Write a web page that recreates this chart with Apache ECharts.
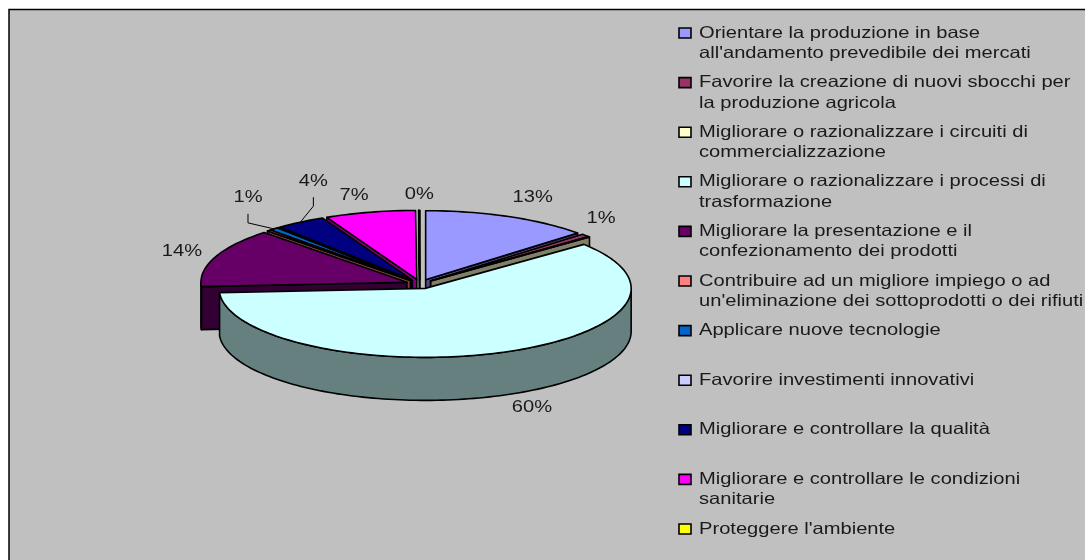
<!DOCTYPE html>
<html><head><meta charset="utf-8">
<style>html,body{margin:0;padding:0;background:#fff}#c{width:1085px;height:560px}</style>
<script src="https://cdn.jsdelivr.net/npm/echarts@6/dist/echarts.min.js"></script>
</head><body><div id="c"></div>
<script>
const categories = [
  "Orientare la produzione in base\nall'andamento prevedibile dei mercati",
  "Favorire la creazione di nuovi sbocchi per\nla produzione agricola",
  "Migliorare o razionalizzare i circuiti di\ncommercializzazione",
  "Migliorare o razionalizzare i processi di\ntrasformazione",
  "Migliorare la presentazione e il\nconfezionamento dei prodotti",
  "Contribuire ad un migliore impiego o ad\nun'eliminazione dei sottoprodotti o dei rifiuti",
  "Applicare nuove tecnologie",
  "Favorire investimenti innovativi",
  "Migliorare e controllare la qualità",
  "Migliorare e controllare le condizioni\nsanitarie",
  "Proteggere l'ambiente"
];
const values = [13.2, 0.7, 0.1, 60.0, 13.8, 0.3, 0.7, 0.1, 3.9, 7.1, 0.1];
const shownLabels = [true, true, false, true, true, false, true, false, true, true, true];
const colors = ['#9999FF','#993366','#FFFFCC','#CCFFFF','#660066','#FF8080','#0066CC','#CCCCFF','#000080','#FF00FF','#FFFF00'];

// layout
const cx = 420, cy = 284, rx = 206, ry = 69, depth = 43, explode = 14, squash = ry / rx;
const nudges = {0:[24,-19],1:[15.5,-17],3:[31,54.5],4:[-33,-6],6:[-26,-31],8:[13,-41],9:[-16,-17],10:[0,-16]};
const leaders = {6:true, 8:true};
const legendX = 679, legendTop = 33, legendStep = 49.6, lineH = 20.5;
const font = '16.5px "Liberation Sans", Arial, sans-serif';
const stretch = 1.22;

const total = values.reduce((a, b) => a + b, 0);
const d2r = Math.PI / 180;
let acc = 0;
const slices = values.map(v => {
  const a0 = acc / total * 360; acc += v; const a1 = acc / total * 360;
  return { a0, a1, mid: (a0 + a1) / 2 };
});
const shade = hex => {
  const n = parseInt(hex.slice(1), 16);
  const f = c => Math.round(c / 2);
  return `rgb(${f(n >> 16)},${f((n >> 8) & 255)},${f(n & 255)})`;
};
const line = { stroke: '#000', lineWidth: 1.6, lineJoin: 'round' };
const stretchedText = (text, x, y, align, z2) => ({ type: 'text', x, y, scaleX: stretch, z2,
  style: { text, x: 0, y: 0, align, verticalAlign: 'middle', fill: '#1a1a1a', font } });

function renderSlice(params, api) {
  const i = api.value(0), s = slices[i];
  const ox = cx + explode * Math.sin(s.mid * d2r);
  const oy = cy - explode * squash * Math.cos(s.mid * d2r);
  const rim = (a, dy) => [ox + rx * Math.sin(a * d2r), oy - ry * Math.cos(a * d2r) + (dy || 0)];
  const arc = (from, to, dy) => {
    const n = Math.max(2, Math.ceil(Math.abs(to - from) / 1.5));
    const pts = [];
    for (let k = 0; k <= n; k++) pts.push(rim(from + (to - from) * k / n, dy));
    return pts;
  };
  const wall = shade(colors[i]);
  const order = 100 - 50 * Math.cos(s.mid * d2r);
  const kids = [];
  const poly = (points, fill, z) => kids.push({ type: 'polygon', shape: { points }, z2: z,
    style: Object.assign({ fill }, line) });
  const radial = a => {
    const p = rim(a);
    poly([[ox, oy], p, [p[0], p[1] + depth], [ox, oy + depth]], wall, order);
  };
  if (Math.sin(s.a0 * d2r) < 0) radial(s.a0);
  if (Math.sin(s.a1 * d2r) > 0) radial(s.a1);
  const w0 = Math.max(s.a0, 90), w1 = Math.min(s.a1, 270);
  if (w1 > w0) {
    const top = arc(w0, w1, 0), bot = arc(w1, w0, depth);
    poly(top.concat(bot), wall, order + 0.1);
  }
  poly([[ox, oy]].concat(arc(s.a0, s.a1, 0)), colors[i], order + 0.2);
  if (shownLabels[i]) {
    const lx = cx + (rx + explode) * Math.sin(s.mid * d2r);
    const ly = cy - (ry + explode * squash) * Math.cos(s.mid * d2r);
    const tx = lx + nudges[i][0], ty = ly + nudges[i][1];
    if (leaders[i]) {
      kids.push({ type: 'polyline', z2: 300, shape: { points: [[tx, ty + 16], [tx, ty + 25], [lx, ly]] },
        style: { stroke: '#000', lineWidth: 1, fill: null } });
    }
    kids.push(stretchedText(Math.round(values[i]) + '%', tx, ty, 'center', 301));
  }
  return { type: 'group', children: kids };
}

function renderLegend(params, api) {
  const i = api.value(0), y = legendTop + legendStep * i;
  const kids = [{ type: 'rect', shape: { x: legendX, y: y - 5, width: 12, height: 10 },
    style: { fill: colors[i], stroke: '#000', lineWidth: 1.6 } }];
  categories[i].split('\n').forEach((t, k) => kids.push(stretchedText(t, legendX + 20, y + k * lineH, 'left', 1)));
  return { type: 'group', children: kids };
}

const rows = values.map((v, i) => [i, v]);
const chart = echarts.init(document.getElementById('c'), null, { renderer: 'canvas' });
chart.setOption({
  animation: false,
  backgroundColor: '#fff',
  graphic: [{ type: 'rect', z: -1, shape: { x: 9, y: 9.5, width: 1090, height: 560 },
    style: { fill: '#C0C0C0', stroke: '#000', lineWidth: 1.5 } }],
  series: [
    { type: 'custom', coordinateSystem: 'none', data: rows, renderItem: renderSlice, silent: true },
    { type: 'custom', coordinateSystem: 'none', data: rows, renderItem: renderLegend, silent: true }
  ]
});
</script></body></html>
